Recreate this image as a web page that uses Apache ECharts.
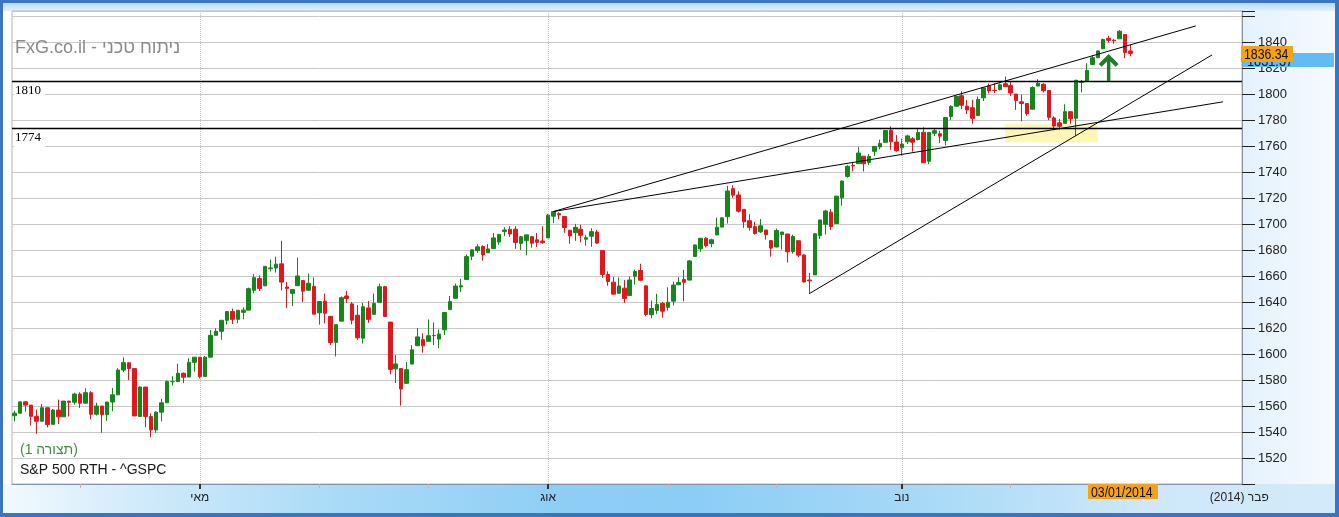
<!DOCTYPE html>
<html><head><meta charset="utf-8">
<script src="https://cdn.jsdelivr.net/npm/echarts@6/dist/echarts.min.js"></script>
<style>
html,body{margin:0;padding:0;background:#fff;}
#wrap{position:relative;width:1339px;height:517px;overflow:hidden;background:#3a74c2;}
.bg{position:absolute;}
#chart{position:absolute;left:0;top:0;width:1339px;height:517px;}
</style></head><body>
<div id="wrap">
 <div class="bg" style="left:3px;top:3px;width:1332px;height:510px;background:#fff"></div>
 <div class="bg" style="left:3px;top:3px;width:1332px;height:8px;background:linear-gradient(to bottom,#b5daf6,#e2f1fc)"></div>
 <div class="bg" style="left:1243px;top:11px;width:92px;height:473px;background:linear-gradient(to right,#e4f1fc,#f6faff)"></div>
 <div class="bg" style="left:3px;top:484px;width:1332px;height:29px;background:linear-gradient(to right,#f2f9fe 0%,#d2ebfa 10%,#a9dbf7 25%,#8ecef5 42%,#8ccdf5 52%,#a9daf7 70%,#cfe8f9 86%,#d2eafa 100%)"></div>
 <div id="chart"></div>
</div>
<script>
// ---- DATA ----
const dates = [
'2013-03-13','2013-03-14','2013-03-15','2013-03-18','2013-03-19','2013-03-20','2013-03-21','2013-03-22','2013-03-25','2013-03-26','2013-03-27','2013-03-28',
'2013-04-01','2013-04-02','2013-04-03','2013-04-04','2013-04-05','2013-04-08','2013-04-09','2013-04-10','2013-04-11','2013-04-12','2013-04-15','2013-04-16','2013-04-17','2013-04-18','2013-04-19','2013-04-22','2013-04-23','2013-04-24','2013-04-25','2013-04-26','2013-04-29','2013-04-30',
'2013-05-01','2013-05-02','2013-05-03','2013-05-06','2013-05-07','2013-05-08','2013-05-09','2013-05-10','2013-05-13','2013-05-14','2013-05-15','2013-05-16','2013-05-17','2013-05-20','2013-05-21','2013-05-22','2013-05-23','2013-05-24','2013-05-28','2013-05-29','2013-05-30','2013-05-31',
'2013-06-03','2013-06-04','2013-06-05','2013-06-06','2013-06-07','2013-06-10','2013-06-11','2013-06-12','2013-06-13','2013-06-14','2013-06-17','2013-06-18','2013-06-19','2013-06-20','2013-06-21','2013-06-24','2013-06-25','2013-06-26','2013-06-27','2013-06-28',
'2013-07-01','2013-07-02','2013-07-03','2013-07-05','2013-07-08','2013-07-09','2013-07-10','2013-07-11','2013-07-12','2013-07-15','2013-07-16','2013-07-17','2013-07-18','2013-07-19','2013-07-22','2013-07-23','2013-07-24','2013-07-25','2013-07-26','2013-07-29','2013-07-30','2013-07-31',
'2013-08-01','2013-08-02','2013-08-05','2013-08-06','2013-08-07','2013-08-08','2013-08-09','2013-08-12','2013-08-13','2013-08-14','2013-08-15','2013-08-16','2013-08-19','2013-08-20','2013-08-21','2013-08-22','2013-08-23','2013-08-26','2013-08-27','2013-08-28','2013-08-29','2013-08-30',
'2013-09-03','2013-09-04','2013-09-05','2013-09-06','2013-09-09','2013-09-10','2013-09-11','2013-09-12','2013-09-13','2013-09-16','2013-09-17','2013-09-18','2013-09-19','2013-09-20','2013-09-23','2013-09-24','2013-09-25','2013-09-26','2013-09-27','2013-09-30',
'2013-10-01','2013-10-02','2013-10-03','2013-10-04','2013-10-07','2013-10-08','2013-10-09','2013-10-10','2013-10-11','2013-10-14','2013-10-15','2013-10-16','2013-10-17','2013-10-18','2013-10-21','2013-10-22','2013-10-23','2013-10-24','2013-10-25','2013-10-28','2013-10-29','2013-10-30','2013-10-31',
'2013-11-01','2013-11-04','2013-11-05','2013-11-06','2013-11-07','2013-11-08','2013-11-11','2013-11-12','2013-11-13','2013-11-14','2013-11-15','2013-11-18','2013-11-19','2013-11-20','2013-11-21','2013-11-22','2013-11-25','2013-11-26','2013-11-27','2013-11-29',
'2013-12-02','2013-12-03','2013-12-04','2013-12-05','2013-12-06','2013-12-09','2013-12-10','2013-12-11','2013-12-12','2013-12-13','2013-12-16','2013-12-17','2013-12-18','2013-12-19','2013-12-20','2013-12-23','2013-12-24','2013-12-26','2013-12-27','2013-12-30','2013-12-31',
'2014-01-02','2014-01-03',
'2014-01-06','2014-01-07','2014-01-08','2014-01-09','2014-01-10','2014-01-13','2014-01-14','2014-01-15','2014-01-16','2014-01-17','2014-01-21','2014-01-22','2014-01-23','2014-01-24','2014-01-27','2014-01-28','2014-01-29','2014-01-30','2014-01-31','2014-02-03'
];
const open = [
1552.5,1554.5,1563.2,1560.7,1552.1,1548.3,1558.7,1545.9,1556.9,1551.7,1563.8,1562.9,
1569.2,1562.2,1570.3,1553.7,1560.0,1553.3,1563.1,1568.6,1587.7,1593.3,1588.8,1552.0,1574.6,1552.0,1541.6,1555.3,1562.5,1578.8,1578.8,1585.2,1582.3,1593.6,
1597.6,1582.8,1597.6,1614.4,1617.5,1625.96,1632.7,1626.7,1632.1,1633.8,1649.1,1658.1,1652.5,1665.7,1666.2,1669.4,1651.6,1646.7,1652.6,1656.6,1649.1,1652.1,
1631.7,1640.7,1629.05,1609.0,1625.3,1644.7,1638.6,1629.9,1612.2,1635.5,1630.6,1639.8,1651.8,1624.6,1588.6,1588.8,1577.5,1592.3,1606.4,1611.1,
1609.8,1614.3,1611.5,1618.7,1634.2,1642.9,1651.6,1657.4,1675.3,1679.6,1682.7,1677.9,1681.1,1686.2,1694.4,1696.0,1696.1,1685.2,1687.3,1690.3,1687.9,1687.0,
1689.4,1706.1,1708.0,1705.8,1695.3,1693.4,1696.1,1688.4,1690.7,1693.9,1679.6,1661.2,1655.3,1646.8,1650.7,1645.0,1659.9,1664.3,1652.5,1630.25,1633.5,1638.9,
1635.95,1640.7,1653.3,1657.4,1656.9,1675.1,1681.0,1689.2,1685.0,1691.7,1697.7,1705.7,1727.3,1722.4,1711.4,1702.6,1698.0,1694.1,1695.5,1687.3,
1682.4,1691.9,1692.4,1678.8,1687.2,1676.2,1656.99,1660.9,1691.1,1699.9,1709.2,1700.5,1720.2,1736.7,1745.2,1746.5,1752.3,1747.5,1756.0,1759.4,1762.9,1772.3,1763.2,
1758.7,1763.4,1765.7,1765.0,1770.7,1748.4,1769.96,1769.5,1764.4,1782.75,1790.7,1798.8,1790.8,1789.6,1783.5,1797.2,1806.3,1802.9,1803.5,1808.0,
1806.6,1800.1,1794.1,1792.8,1788.4,1806.2,1807.6,1802.8,1781.7,1777.98,1777.5,1786.5,1781.5,1809.0,1810.4,1822.9,1828.0,1834.96,1842.97,1841.5,1842.6,
1845.9,1833.2
];
const high = [
1556.4,1563.3,1563.6,1560.7,1557.3,1561.6,1558.7,1557.7,1564.9,1563.9,1564.1,1570.3,
1570.6,1573.7,1571.5,1562.6,1560.0,1563.1,1573.9,1589.1,1597.4,1593.3,1588.8,1575.3,1574.6,1554.4,1555.9,1565.5,1579.6,1583.0,1592.6,1585.8,1596.7,1597.6,
1597.6,1598.6,1618.5,1619.8,1626.0,1632.8,1635.0,1633.7,1636.0,1651.1,1661.5,1660.5,1667.5,1672.8,1675.0,1687.2,1655.5,1649.8,1674.2,1656.6,1661.9,1659.0,
1640.4,1646.5,1629.3,1622.6,1644.4,1648.7,1640.1,1637.7,1639.3,1640.8,1646.5,1654.2,1652.5,1624.6,1599.2,1588.8,1593.8,1606.8,1620.1,1615.9,
1626.6,1624.3,1619.0,1632.1,1644.7,1654.2,1657.9,1676.6,1680.2,1684.5,1683.7,1684.75,1693.1,1692.1,1697.6,1698.4,1698.4,1690.9,1691.9,1690.9,1693.2,1698.4,
1707.9,1709.7,1709.2,1705.8,1695.3,1700.2,1699.4,1691.5,1696.8,1695.5,1679.6,1663.6,1659.2,1658.9,1657.0,1659.6,1664.9,1669.5,1652.5,1641.2,1646.4,1640.1,
1651.35,1655.7,1659.2,1664.8,1672.4,1684.1,1689.1,1690.0,1688.7,1704.95,1705.5,1729.4,1729.9,1725.2,1711.4,1707.6,1701.7,1703.9,1695.5,1687.3,
1696.6,1693.9,1692.4,1691.9,1687.2,1676.8,1662.5,1692.6,1703.4,1711.0,1711.6,1721.8,1733.4,1745.3,1747.8,1759.3,1752.3,1753.9,1759.8,1765.0,1772.1,1775.2,1768.5,
1765.7,1768.8,1767.0,1773.7,1774.5,1770.8,1773.4,1771.8,1782.0,1791.5,1798.2,1802.3,1795.5,1795.7,1798.2,1804.8,1808.1,1808.4,1808.3,1813.6,
1810.0,1800.1,1799.8,1792.8,1806.0,1811.5,1808.5,1803.0,1783.0,1780.9,1792.2,1786.8,1811.1,1810.9,1823.8,1829.75,1833.3,1842.8,1844.9,1842.5,1849.4,
1845.9,1838.2
];
const low = [
1548.3,1554.5,1555.7,1545.1,1538.6,1548.3,1543.6,1545.9,1546.2,1551.7,1551.9,1561.1,
1558.5,1562.2,1549.8,1552.7,1539.5,1548.6,1556.0,1568.6,1586.2,1580.0,1552.3,1552.0,1543.7,1536.0,1539.4,1548.2,1562.5,1575.8,1578.8,1577.6,1582.3,1586.5,
1581.3,1582.8,1597.6,1614.2,1611.0,1622.7,1623.1,1623.7,1626.7,1633.8,1646.7,1648.6,1652.5,1663.5,1662.7,1648.9,1635.5,1636.9,1652.6,1640.1,1648.6,1630.7,
1622.7,1623.6,1606.9,1598.2,1625.3,1639.3,1622.9,1610.9,1608.1,1624.0,1630.3,1639.8,1628.9,1584.3,1577.7,1560.3,1577.1,1592.3,1606.4,1601.1,
1609.8,1606.8,1604.6,1614.7,1634.2,1642.9,1647.7,1657.4,1672.3,1677.9,1671.8,1677.9,1681.1,1684.1,1690.7,1690.1,1681.0,1680.1,1676.0,1681.9,1682.4,1684.9,
1689.4,1700.7,1703.6,1693.3,1684.9,1687.1,1686.0,1683.4,1682.6,1684.8,1658.6,1652.6,1646.1,1646.1,1639.4,1645.0,1653.4,1656.0,1629.1,1627.5,1630.9,1628.0,
1633.4,1637.4,1653.1,1640.6,1656.9,1675.1,1678.7,1682.0,1682.2,1691.7,1697.7,1700.4,1720.2,1708.9,1697.1,1694.9,1691.9,1693.1,1688.0,1675.0,
1682.1,1680.3,1670.4,1677.3,1674.7,1655.0,1646.5,1660.9,1688.5,1692.1,1695.5,1700.5,1714.1,1735.7,1740.6,1746.5,1740.5,1745.5,1752.4,1757.7,1762.9,1757.2,1755.7,
1752.7,1761.6,1755.8,1764.4,1747.0,1746.2,1767.8,1762.3,1760.6,1780.2,1790.7,1788.4,1784.7,1777.2,1783.5,1794.7,1800.6,1800.8,1802.8,1806.0,
1798.6,1787.9,1779.1,1783.4,1788.4,1806.2,1801.4,1780.1,1772.3,1772.5,1777.5,1777.2,1768.0,1801.3,1810.4,1822.9,1828.0,1835.0,1839.8,1838.8,1842.4,
1827.7,1829.1
];
const close = [
1554.5,1563.2,1560.7,1552.1,1548.3,1558.7,1545.8,1556.9,1551.7,1563.8,1562.9,1569.2,
1562.2,1570.3,1553.7,1560.0,1553.3,1563.1,1568.6,1587.7,1593.4,1588.9,1552.4,1574.6,1552.0,1541.6,1555.3,1562.5,1578.8,1578.8,1585.2,1582.2,1593.6,1597.6,
1582.7,1597.6,1614.4,1617.5,1626.0,1632.7,1626.7,1633.7,1633.8,1650.3,1658.8,1650.5,1667.5,1666.3,1669.2,1655.4,1650.5,1649.6,1660.1,1648.4,1654.4,1630.7,
1640.4,1631.4,1608.9,1622.6,1643.4,1642.8,1626.1,1612.5,1636.4,1626.7,1639.0,1651.8,1628.9,1588.2,1592.4,1573.1,1588.0,1603.3,1613.2,1606.3,
1614.1,1614.1,1615.4,1631.9,1640.5,1652.3,1652.6,1675.0,1680.2,1682.5,1676.3,1680.9,1689.4,1692.1,1695.5,1692.4,1685.9,1690.3,1691.7,1685.3,1686.0,1685.7,
1706.9,1709.7,1707.1,1697.4,1690.9,1697.5,1691.4,1689.5,1694.2,1685.4,1661.3,1655.8,1646.1,1652.4,1642.8,1657.0,1663.5,1656.8,1630.5,1635.0,1638.2,1633.0,
1639.8,1653.1,1655.1,1655.2,1671.7,1684.0,1689.1,1683.4,1688.0,1697.6,1704.8,1725.5,1722.3,1709.9,1701.8,1697.4,1692.8,1698.7,1691.8,1681.6,
1695.0,1693.9,1678.7,1690.5,1676.1,1655.5,1656.4,1692.6,1703.2,1710.1,1698.1,1721.5,1733.2,1744.5,1744.7,1754.7,1746.4,1752.1,1759.8,1762.1,1772.0,1763.3,1756.5,
1761.6,1767.9,1763.0,1770.5,1747.2,1770.6,1771.9,1767.7,1782.0,1790.6,1798.2,1791.5,1787.9,1781.4,1795.9,1804.8,1802.5,1802.8,1807.2,1805.8,
1800.9,1795.2,1792.8,1785.0,1805.1,1808.4,1802.6,1782.2,1775.5,1775.3,1786.5,1781.0,1810.7,1809.6,1818.3,1828.0,1833.3,1842.0,1841.4,1841.1,1848.4,
1832.0,1831.4
];
const monthLabels = {'2013-05-01':'מאי','2013-08-01':'אוג','2013-11-01':'נוב','2014-02-03':'פבר (2014)'};
const majorTickDates = ['2013-05-01','2013-08-01','2013-11-01'];
const minorTickDates = ['2013-04-01','2013-06-03','2013-07-01','2013-09-03','2013-10-01','2013-12-02','2014-01-02'];
const yMin = 1500, yMax = 1864, yStep = 20, yLabelMin = 1520, yLabelMax = 1840;
const levels = [1810, 1774];
const trendLines = [
  [['2013-08-02',1709.7],['2014-01-22',1852.5]],
  [['2013-08-02',1709.7],['2014-01-29',1794.1]],
  [['2013-10-09',1646.5],['2014-01-27',1830.2]]
];
const zone = [['2013-11-29',1776.8],['2013-12-24',1763.0]];
const arrowAt = ['2013-12-27',1820.5];
const lastPrice = '1831.37', cursorPrice = '1836.34', cursorDate = '03/01/2014';
const titleText = 'FxG.co.il - ניתוח טכני';
const noteText = '(תצורה 1)';
const symbolText = 'S&P 500 RTH - ^GSPC';

// ---- CHART ----
const candles = close.map((c,i)=>[open[i], c, low[i], high[i]]);
const SANS = '"Liberation Sans",Arial,sans-serif';
const chart = echarts.init(document.getElementById('chart'), null, {renderer:'canvas'});
const option = {
  animation: false,
  backgroundColor: 'transparent',
  grid: {left:12, right:97, top:11, bottom:33, show:true, backgroundColor:'#fff', borderColor:'#b4b4b4', borderWidth:1},
  xAxis: [{
    type:'category', data: dates, boundaryGap:true,
    axisLine:{show:true, lineStyle:{color:'#8295aa', width:1}},
    axisTick:{show:true, alignWithLabel:true, length:5, interval:(i,v)=>majorTickDates.includes(v), lineStyle:{color:'#333', width:2}},
    axisLabel:{show:true, interval:(i,v)=>v in monthLabels, formatter:v=>monthLabels[v]||'', color:'#222', fontSize:12, fontFamily:SANS, margin:8},
    splitLine:{show:true, alignWithLabel:true, interval:(i,v)=>majorTickDates.includes(v), lineStyle:{type:'dotted', color:'#c4c4c4', width:1}}
  },{
    type:'category', data: dates, boundaryGap:true, gridIndex:0, position:'bottom',
    axisLine:{show:false},
    axisTick:{show:true, alignWithLabel:true, length:4, interval:(i,v)=>minorTickDates.includes(v), lineStyle:{color:'#d3aeb0', width:1}},
    axisLabel:{show:false}, splitLine:{show:false}
  }],
  yAxis: {
    type:'value', position:'right', min:yMin, max:yMax, interval:yStep, scale:true,
    axisLine:{show:true, lineStyle:{color:'#8295aa'}},
    axisTick:{show:true, length:13, lineStyle:{color:'#222'}},
    axisLabel:{show:true, margin:16, color:'#222', fontSize:13, fontFamily:SANS,
      formatter:v=>(v<yLabelMin||v>yLabelMax)?'':String(v)},
    splitLine:{show:true, lineStyle:{color:'#c8c8c8', width:1}}
  },
  series: [{
    type:'candlestick', xAxisIndex:0, yAxisIndex:0, data:candles, barWidth:4, z:3,
    itemStyle:{color:'#16851b', color0:'#e3161b', borderColor:'#16851b', borderColor0:'#e3161b', borderWidth:1},
    markArea:{silent:true, itemStyle:{color:'rgba(250,242,130,0.6)'}, data:[[{coord:zone[0]},{coord:zone[1]}]]},
    markLine:{silent:true, symbol:'none', animation:false,
      data:[
        ...levels.map(v=>({yAxis:v, lineStyle:{color:'#000', width:1.4, type:'solid'},
          label:{show:true, formatter:String(v), position:'insideStartBottom', distance:2, color:'#000',
                 fontFamily:'"Liberation Serif","Times New Roman",serif', fontSize:13, backgroundColor:'#fff', padding:[1,4,3,1]}})),
        ...trendLines.map(([a,b])=>[{coord:a, lineStyle:{color:'#000', width:1, type:'solid'}, label:{show:false}},{coord:b}])
      ]},
    markPoint:{silent:true, data:[{coord:arrowAt, symbol:'path://M10,0 L20,11 L17,14 L11.7,8.3 L11.7,30 L8.3,30 L8.3,8.3 L3,14 L0,11 Z',
      symbolSize:[20,27], itemStyle:{color:'#1d7d2a'}, label:{show:false}}]}
  }],
  graphic: [
    {type:'text', x:15, y:39, z:100, style:{text:titleText, fill:'#8a8a8a', font:'18px '+SANS}},
    {type:'text', x:20, y:443, z:100, style:{text:noteText, fill:'#3f8f3f', font:'14px '+SANS}},
    {type:'text', x:20, y:463, z:100, style:{text:symbolText, fill:'#1a1a1a', font:'14px '+SANS}},
    {type:'rect', x:1243, y:53, z:100, shape:{x:0, y:0, width:91, height:14}, style:{fill:'#62bcf4'}},
    {type:'text', x:1247, y:54, z:101, scaleX:0.85, style:{text:lastPrice, fill:'#111', font:'15px '+SANS}},
    {type:'rect', x:1241, y:46, z:102, shape:{x:0, y:0, width:52, height:16}, style:{fill:'#f4a21c'}},
    {type:'text', x:1244, y:47, z:103, scaleX:0.82, style:{text:cursorPrice, fill:'#111', font:'15px '+SANS}},
    {type:'rect', x:1088, y:484, z:102, shape:{x:0, y:0, width:70, height:15}, style:{fill:'#f4a21c'}},
    {type:'text', x:1091, y:485, z:103, scaleX:0.82, style:{text:cursorDate, fill:'#111', font:'15px '+SANS}}
  ]
};
chart.setOption(option);
</script>
</body></html>
